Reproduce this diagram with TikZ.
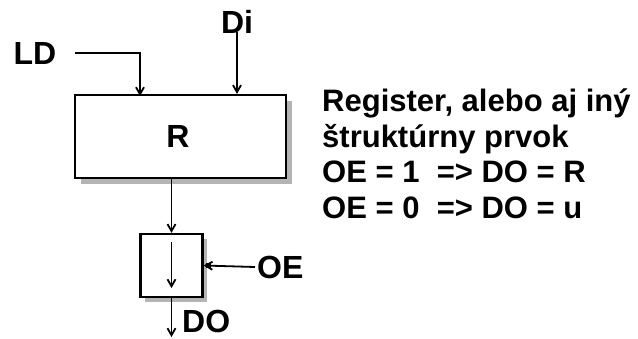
\documentclass[tikz,border=0pt]{standalone}
\usepackage{fontspec}
\setmainfont{Liberation Sans}
\usepackage{xcolor}
\usetikzlibrary{arrows.meta,positioning,calc}
\definecolor{Ink}{HTML}{000000}
\definecolor{Shade}{HTML}{B4B4B4}
\tikzset{
  sig/.style={Ink, line width=1.8pt, -{Straight Barb[length=7pt,width=8pt]}},
  blk/.style={draw=Ink, line width=2.2pt, fill=white, inner sep=0pt},
  lbl/.style={font=\bfseries\fontsize{32}{35.5}\selectfont, inner sep=2pt},
  note/.style={font=\bfseries\fontsize{31}{35.5}\selectfont, inner sep=0pt, align=left}
}

\begin{document}
\begin{tikzpicture}[x=1pt, y=-1pt]
    \useasboundingbox (0,0) rectangle (638,338);
    % shadows
    \fill[Shade] (81,101) rectangle (292,184);
    \fill[Shade] (145,239) rectangle (207,302);
    % blocks
    \node[blk, minimum width=211pt, minimum height=83pt] (reg) at (180.5,136.5) {};
    \node[lbl] (rlab) at (178,136) {R};
    \node[blk, minimum width=62pt, minimum height=63pt] (gate) at (171.5,265.5) {};
    % labels
    \node[lbl] (ld) at (35,53) {LD};
    \node[lbl] (di) at (237,22) {Di};
    \node[lbl, anchor=west] (oe) at (255,267) {OE};
    \node[lbl, anchor=west] (do) at (180,321) {DO};
    \node[note, anchor=base west] (txt) at (322,218)
      {Register, alebo aj iný\\štruktúrny prvok\\OE = 1 \ => DO = R\\OE = 0 \ => DO = u};
    \coordinate (ldin) at (140,96);
    \coordinate (dout) at (171.5,337);
    % signals
    \draw[sig] ([xshift=16pt]ld.east) -| (ldin);
    \draw[sig] ([yshift=4pt]di.south) -- (di.south |- reg.north);
    \draw[sig] (gate.north |- reg.south) -- (gate.north);
    \draw[sig] ([yshift=-9pt]gate.north) -- ([yshift=10pt]gate.south);
    \draw[sig] (oe.west) -- (gate.east);
    \fill[Ink] ($(gate.east)+(2,-2.5)$) rectangle ++(5,5);
    \draw[sig] (gate.south) -- (dout);
\end{tikzpicture}
\end{document}
